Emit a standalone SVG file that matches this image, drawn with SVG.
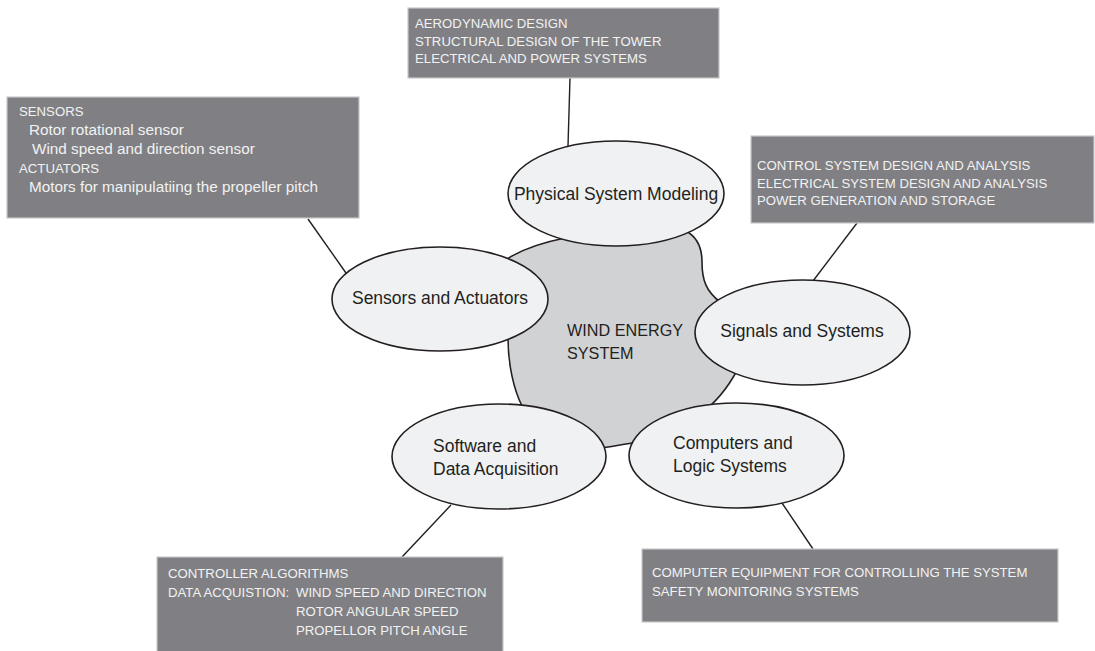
<svg xmlns="http://www.w3.org/2000/svg" width="1095" height="651" viewBox="0 0 1095 651">
<style>
.box{fill:#808084;stroke:#c8c8ca;stroke-width:1.2}
.bt{font-family:"Liberation Sans",Arial,sans-serif;font-size:13.2px;fill:#f2f2f2}
.bl{font-family:"Liberation Sans",Arial,sans-serif;font-size:15.3px;fill:#f2f2f2}
.ell{fill:#f0f1f3;stroke:#231f20;stroke-width:1.6}
.lab{font-family:"Liberation Sans",Arial,sans-serif;font-size:17.5px;fill:#231f20}
.cen{font-family:"Liberation Sans",Arial,sans-serif;font-size:16.2px;fill:#231f20}
.con{stroke:#231f20;stroke-width:1.4;fill:none}
</style>
<rect width="1095" height="651" fill="#ffffff"/>
<g id="connectors">
<line class="con" x1="570" y1="78" x2="568" y2="146"/>
<line class="con" x1="308" y1="219" x2="346" y2="273"/>
<line class="con" x1="857" y1="223" x2="813" y2="281"/>
<line class="con" x1="451" y1="505" x2="402" y2="557"/>
<line class="con" x1="782" y1="503" x2="813" y2="549"/>
</g>
<g id="box-physical">
<rect class="box" x="408" y="8" width="311" height="70"/>
<text class="bt" x="415" y="27.7">AERODYNAMIC DESIGN</text>
<text class="bt" x="415" y="45.5">STRUCTURAL DESIGN OF THE TOWER</text>
<text class="bt" x="415" y="63.3">ELECTRICAL AND POWER SYSTEMS</text>
</g>
<g id="box-sensors">
<rect class="box" x="7" y="97" width="352" height="121"/>
<text class="bt" x="19" y="116">SENSORS</text>
<text class="bl" x="29" y="135">Rotor rotational sensor</text>
<text class="bl" x="32" y="154">Wind speed and direction sensor</text>
<text class="bt" x="19" y="173">ACTUATORS</text>
<text class="bl" x="29" y="192">Motors for manipulatiing the propeller pitch</text>
</g>
<g id="box-signals">
<rect class="box" x="751" y="136" width="343" height="87"/>
<text class="bt" x="757" y="170">CONTROL SYSTEM DESIGN AND ANALYSIS</text>
<text class="bt" x="757" y="187.5">ELECTRICAL SYSTEM DESIGN AND ANALYSIS</text>
<text class="bt" x="757" y="205">POWER GENERATION AND STORAGE</text>
</g>
<g id="box-software">
<rect class="box" x="157" y="557" width="346" height="100"/>
<text class="bt" x="168" y="578">CONTROLLER ALGORITHMS</text>
<text class="bt" y="597"><tspan x="168">DATA ACQUISTION:</tspan><tspan x="296">WIND SPEED AND DIRECTION</tspan></text>
<text class="bt" x="296" y="616">ROTOR ANGULAR SPEED</text>
<text class="bt" x="296" y="635">PROPELLOR PITCH ANGLE</text>
</g>
<g id="box-computers">
<rect class="box" x="642" y="549" width="416" height="73"/>
<text class="bt" x="652" y="577">COMPUTER EQUIPMENT FOR CONTROLLING THE SYSTEM</text>
<text class="bt" x="652" y="596">SAFETY MONITORING SYSTEMS</text>
</g>
<g id="wind-energy-system">
<path d="M 500 264 C 515 252 540 243 565 238 L 600 232 L 686 231 C 697 237 702 248 702 262 C 702 280 706 291 720 302 L 745 350 C 738 375 722 395 710 406 L 640 442 C 625 444 615 446 602 448 L 522 406 C 514 390 508 365 508 338 L 495 290 Z" fill="#d1d2d4" stroke="#231f20" stroke-width="1.6"/>
<text class="cen" x="567" y="336">WIND ENERGY</text>
<text class="cen" x="567" y="359">SYSTEM</text>
</g>
<g id="node-physical">
<ellipse class="ell" cx="616" cy="193.5" rx="108" ry="52.5"/>
<text class="lab" x="616" y="200" text-anchor="middle">Physical System Modeling</text>
</g>
<g id="node-sensors">
<ellipse class="ell" cx="440" cy="299" rx="108" ry="52"/>
<text class="lab" x="440" y="304" text-anchor="middle">Sensors and Actuators</text>
</g>
<g id="node-signals">
<ellipse class="ell" cx="802.5" cy="332.5" rx="107.5" ry="52.5"/>
<text class="lab" x="802" y="337" text-anchor="middle">Signals and Systems</text>
</g>
<g id="node-software">
<ellipse class="ell" cx="499" cy="456.5" rx="107" ry="52.5"/>
<text class="lab" x="433" y="452">Software and</text>
<text class="lab" x="433" y="475">Data Acquisition</text>
</g>
<g id="node-computers">
<ellipse class="ell" cx="736.5" cy="455.5" rx="107.5" ry="52.5"/>
<text class="lab" x="673" y="449">Computers and</text>
<text class="lab" x="673" y="472">Logic Systems</text>
</g>
</svg>
